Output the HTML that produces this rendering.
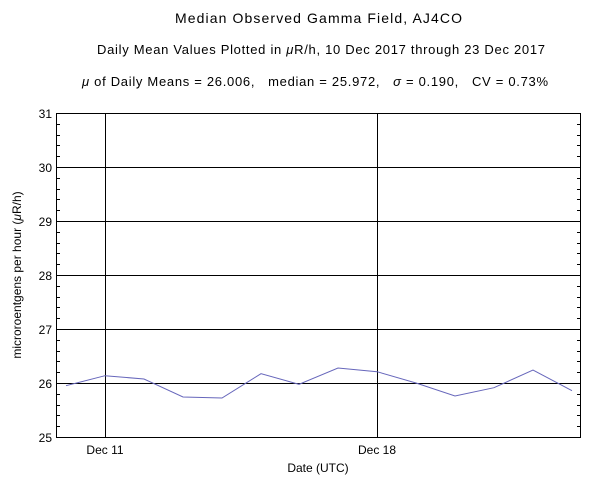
<!DOCTYPE html>
<html><head><meta charset="utf-8"><style>
body{margin:0;background:#fff;}
svg{display:block;font-family:"Liberation Sans",Arial,sans-serif;}
</style></head><body>
<svg width="600" height="496" viewBox="0 0 600 496" xmlns="http://www.w3.org/2000/svg">
<rect width="600" height="496" fill="#fff"/>
<text x="175" y="23" font-size="14" textLength="287" lengthAdjust="spacing">Median Observed Gamma Field, AJ4CO</text>
<text x="97" y="54" font-size="13" textLength="448" lengthAdjust="spacing">Daily Mean Values Plotted in <tspan font-style="italic">μ</tspan>R/h, 10 Dec 2017 through 23 Dec 2017</text>
<text x="82" y="86" font-size="13" textLength="466" lengthAdjust="spacing"><tspan font-style="italic">μ</tspan> of Daily Means = 26.006,&#160;&#160;&#160;median = 25.972,&#160;&#160;&#160;<tspan font-style="italic">σ</tspan> = 0.190,&#160;&#160;&#160;CV = 0.73%</text>
<g stroke="#000" stroke-width="1" fill="none" shape-rendering="crispEdges">
<rect x="56.5" y="113.5" width="524" height="324"/>
<line x1="56" y1="167.5" x2="581" y2="167.5"/>
<line x1="56" y1="221.5" x2="581" y2="221.5"/>
<line x1="56" y1="275.5" x2="581" y2="275.5"/>
<line x1="56" y1="329.5" x2="581" y2="329.5"/>
<line x1="56" y1="383.5" x2="581" y2="383.5"/>
<line x1="105.5" y1="113" x2="105.5" y2="437"/>
<line x1="377.5" y1="113" x2="377.5" y2="437"/>
<path d="M56 124.5h4M56 135.5h4M56 145.5h4M56 156.5h4M56 178.5h4M56 189.5h4M56 199.5h4M56 210.5h4M56 232.5h4M56 243.5h4M56 253.5h4M56 264.5h4M56 286.5h4M56 297.5h4M56 307.5h4M56 318.5h4M56 340.5h4M56 351.5h4M56 361.5h4M56 372.5h4M56 394.5h4M56 405.5h4M56 415.5h4M56 426.5h4"/>
<path d="M577 124.5h4M577 135.5h4M577 145.5h4M577 156.5h4M577 178.5h4M577 189.5h4M577 199.5h4M577 210.5h4M577 232.5h4M577 243.5h4M577 253.5h4M577 264.5h4M577 286.5h4M577 297.5h4M577 307.5h4M577 318.5h4M577 340.5h4M577 351.5h4M577 361.5h4M577 372.5h4M577 394.5h4M577 405.5h4M577 415.5h4M577 426.5h4"/>
</g>
<polyline fill="none" stroke="#6666bb" stroke-width="1" points="66,385.7 105,375.7 144,379 183,397 222,398 261,373.7 299,384.3 338,368 377,371.7 416,383 455,396 494,387.7 533,370 572,390.7"/>
<g font-size="12" text-anchor="end">
<text x="52" y="118">31</text><text x="52" y="172">30</text><text x="52" y="226">29</text>
<text x="52" y="280">28</text><text x="52" y="334">27</text><text x="52" y="388">26</text><text x="52" y="442">25</text>
</g>
<g font-size="12" text-anchor="middle">
<text x="105" y="454">Dec 11</text><text x="377" y="454">Dec 18</text>
<text x="318" y="472">Date (UTC)</text>
</g>
<text transform="translate(21,275) rotate(-90)" font-size="12" text-anchor="middle">microroentgens per hour (<tspan font-style="italic">μ</tspan>R/h)</text>
</svg>
</body></html>
